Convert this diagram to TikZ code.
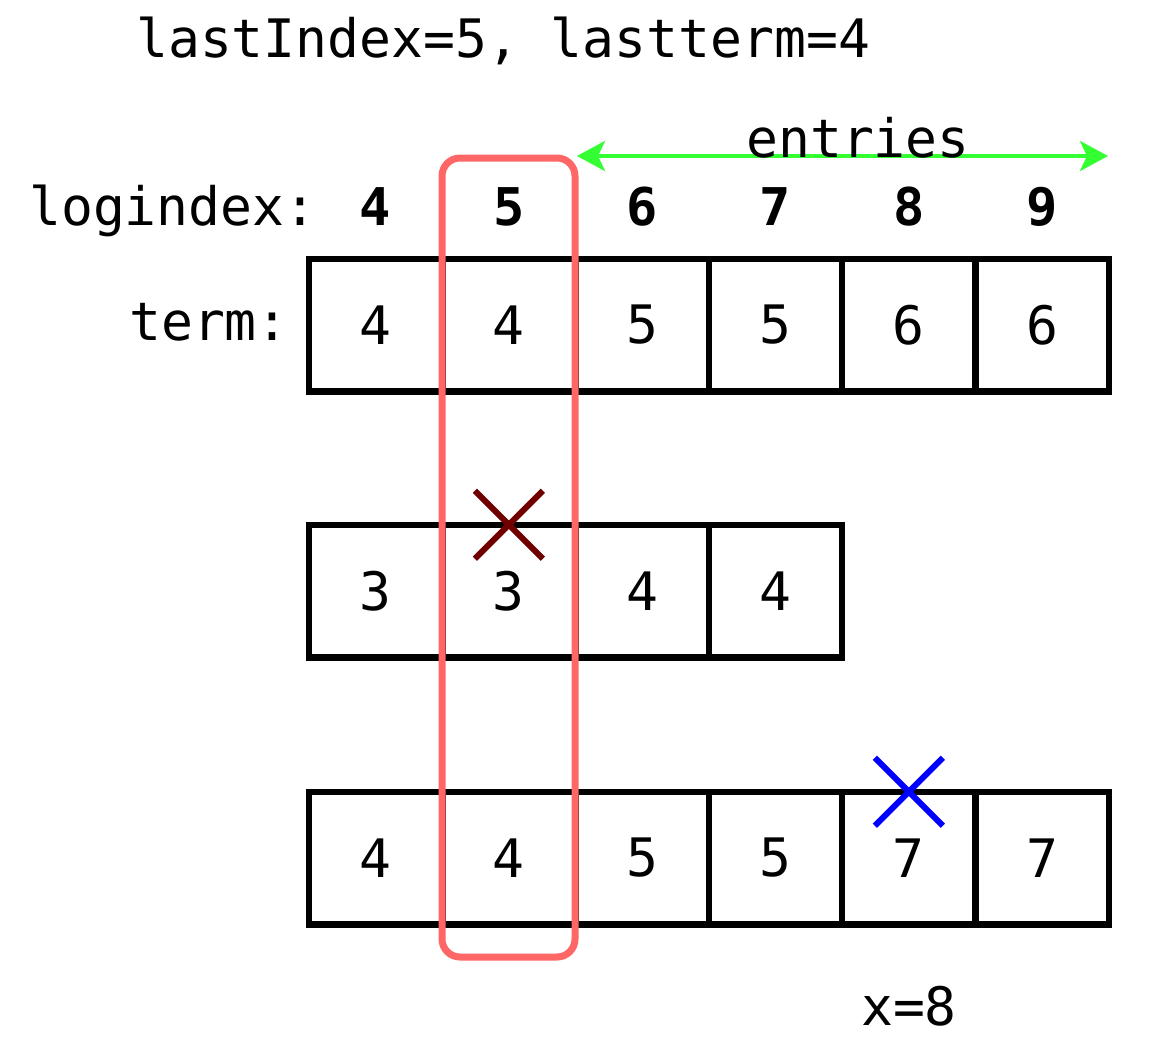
\documentclass[tikz,border=0pt]{standalone}
\usepackage{fontspec}
\setmonofont{DejaVu Sans Mono}
\usetikzlibrary{arrows.meta,calc}
\definecolor{boxred}{RGB}{255,102,102}
\definecolor{crossred}{RGB}{112,0,0}
\definecolor{arrgreen}{RGB}{51,255,51}
\begin{document}
\begin{tikzpicture}[x=1pt,y=-1pt,
  cell/.style={draw=black,line width=6.5pt,minimum width=133.3pt,minimum height=132.5pt,inner sep=0pt,outer sep=0pt,font=\ttfamily\fontsize{53}{60}\selectfont},
  lbl/.style={inner sep=0pt,font=\ttfamily\fontsize{53}{60}\selectfont},
  idx/.style={inner sep=0pt,anchor=base,font=\ttfamily\bfseries\fontsize{52}{60}\selectfont},
  crossline/.style={line width=6pt}]
\useasboundingbox (0,0) rectangle (1154,1050);
\fill[white] (0,0) rectangle (1154,1050);
% top text
\node[lbl,anchor=base west] (top) at (136,57) {lastIndex=5, lastterm=4};
% logindex row
\node[lbl,anchor=base west] (logl) at (29,225) {logindex:};
\foreach \i/\v in {0/4,1/5,2/6,3/7,4/8,5/9}{
  \node[idx] (li\v) at ({375.6+133.3*\i},225) {\v};
}
% term label
\node[lbl,anchor=base west] (terml) at (129,340) {term:};
% row 1
\foreach \i/\v in {0/4,1/4,2/5,3/5,4/6,5/6}{
  \node[cell] (a\i) at ({375.6+133.3*\i},325) {\v};
}
% row 2
\foreach \i/\v in {0/3,1/3,2/4,3/4}{
  \node[cell] (b\i) at ({375.6+133.3*\i},591) {\v};
}
% row 3
\foreach \i/\v in {0/4,1/4,2/5,3/5,4/7,5/7}{
  \node[cell] (c\i) at ({375.6+133.3*\i},858) {\v};
}
% red highlight
\draw[boxred,line width=7pt,rounded corners=18pt] (442,158) rectangle (575,957);
% entries arrow
\coordinate (entL) at (577,156);
\coordinate (entR) at (1108,156);
\draw[arrgreen,line width=4pt,{Stealth[length=28pt,width=30pt,inset=7pt]}-{Stealth[length=28pt,width=30pt,inset=7pt]}] (entL) -- (entR);
\node[lbl,anchor=base] (ent) at (858,157) {entries};
% crosses
\draw[crossred,crossline] ($(b1.north)+(-34,-34)$) -- ($(b1.north)+(34,34)$);
\draw[crossred,crossline] ($(b1.north)+(-34,34)$) -- ($(b1.north)+(34,-34)$);
\draw[blue,crossline] ($(c4.north)+(-34,-34)$) -- ($(c4.north)+(34,34)$);
\draw[blue,crossline] ($(c4.north)+(-34,34)$) -- ($(c4.north)+(34,-34)$);
% x=8
\node[lbl,anchor=base] (xl) at (909,1025) {x=8};
\end{tikzpicture}
\end{document}
